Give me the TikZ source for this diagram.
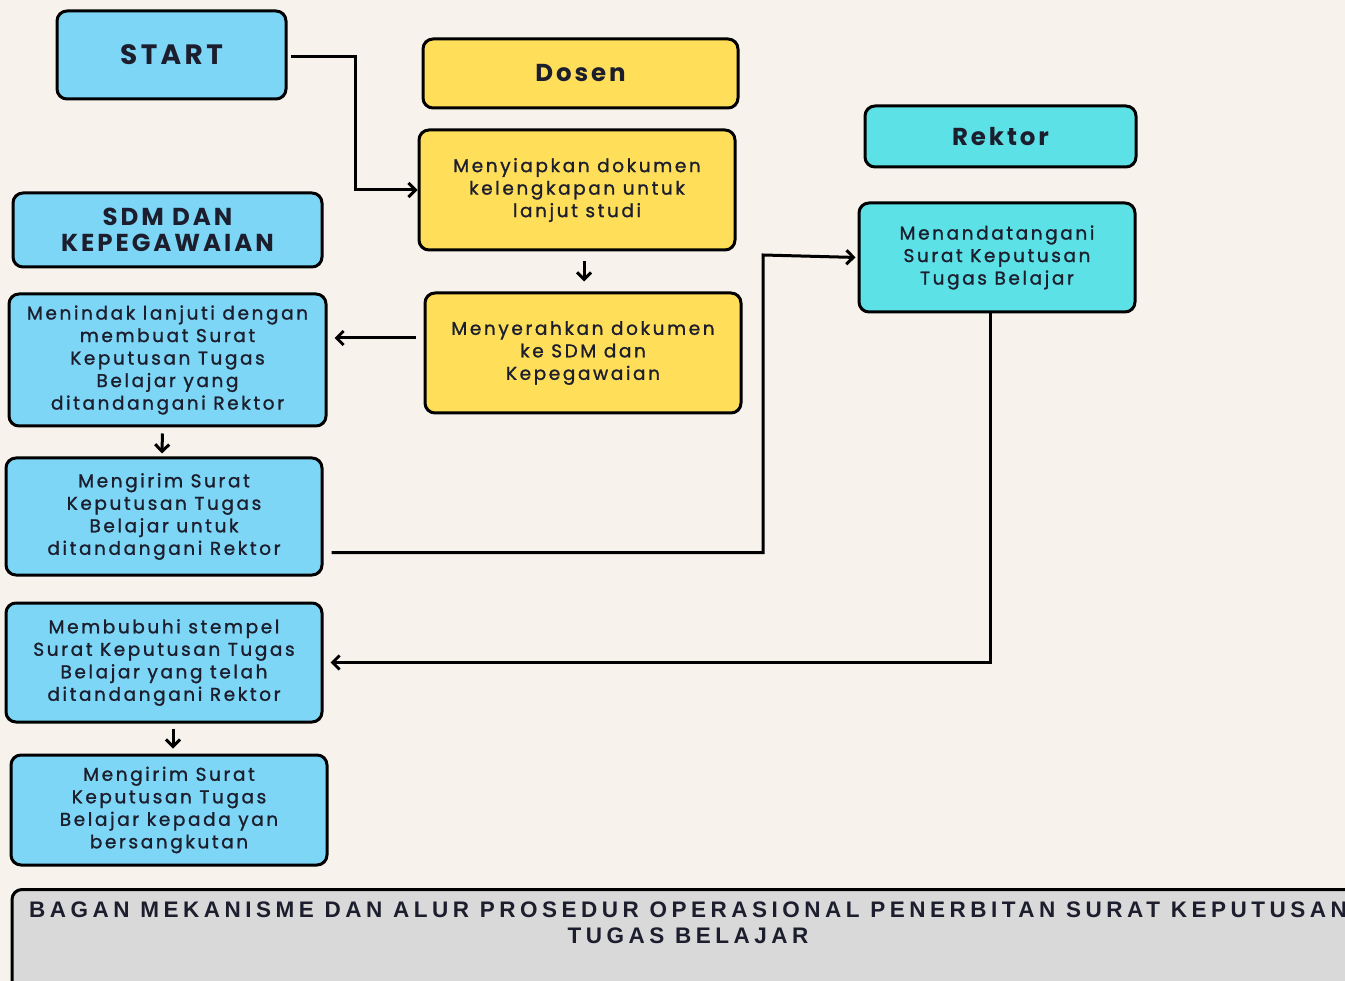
\documentclass[tikz,border=0pt]{standalone}
\usepackage{fontspec}
\setmainfont{Poppins}
\newfontfamily\bodyfont[LetterSpace=14, FakeBold=1.2]{Poppins}
\newfontfamily\headfont[LetterSpace=12]{Poppins}
\newfontfamily\titlefont[LetterSpace=20]{Liberation Sans}
\usetikzlibrary{arrows.meta, positioning}
\definecolor{cbg}{HTML}{F7F3EC}
\definecolor{cblue}{HTML}{7DD6F5}
\definecolor{ccyan}{HTML}{5CE1E6}
\definecolor{cyellow}{HTML}{FFDE59}
\definecolor{cgrey}{HTML}{D9D9D9}
\definecolor{ctext}{HTML}{1C1E2E}
\tikzset{
  every picture/.style={x=1pt, y=-1pt, line width=3pt},
  box/.style={draw=black, fill=#1, rounded corners=10pt, line width=3pt, align=center, inner sep=4pt, text=ctext, font=\bodyfont\fontsize{18.5}{22.5}\selectfont},
  box/.default=cblue,
  head/.style={box=#1, font=\headfont\bfseries\fontsize{24.5}{26}\selectfont},
  arrow/.style={-{Straight Barb[length=7pt, width=14pt]}, draw=black, line width=3pt},
  title/.style={draw=black, fill=cgrey, rounded corners=10pt, line width=3pt, align=center, text=ctext, font=\titlefont\bfseries\fontsize{22.5}{26}\selectfont},
}
\begin{document}
\begin{tikzpicture}
  \clip (0,0) rectangle (1345,981);
  \fill[cbg] (0,0) rectangle (1345,981);
  \node[head=cblue, minimum width=229pt, minimum height=88pt, font=\headfont\bfseries\fontsize{28}{30}\selectfont] (start) at (171.5,55) {START};
  \node[head=cyellow, minimum width=315pt, minimum height=69pt] (dosen) at (580.5,73.5) {Dosen};
  \node[head=ccyan, minimum width=271pt, minimum height=61pt] (rektor) at (1000.5,136.5) {Rektor};
  \node[head=cblue, minimum width=309pt, minimum height=74pt] (sdm) at (167.5,230) {SDM DAN\\KEPEGAWAIAN};
  \node[box=cyellow, minimum width=316pt, minimum height=120pt] (prep) at (577,190) {Menyiapkan dokumen\\kelengkapan untuk\\lanjut studi};
  \node[box=cyellow, minimum width=316pt, minimum height=120pt] (hand) at (583,353) {Menyerahkan dokumen\\ke SDM dan\\Kepegawaian};
  \node[box=ccyan, minimum width=276pt, minimum height=109pt] (sign) at (997,257.5) {Menandatangani\\Surat Keputusan\\Tugas Belajar};
  \node[box, minimum width=317pt, minimum height=132pt] (act) at (167.5,360) {Menindak lanjuti dengan\\membuat Surat\\Keputusan Tugas\\Belajar yang\\ditandangani Rektor};
  \node[box, minimum width=316pt, minimum height=117pt] (send) at (164,516.5) {Mengirim Surat\\Keputusan Tugas\\Belajar untuk\\ditandangani Rektor};
  \node[box, minimum width=316pt, minimum height=119pt] (stamp) at (164,662.5) {Membubuhi stempel\\Surat Keputusan Tugas\\Belajar yang telah\\ditandangani Rektor};
  \node[box, minimum width=316pt, minimum height=110pt] (deliver) at (169,810) {Mengirim Surat\\Keputusan Tugas\\Belajar kepada yan\\bersangkutan};
  \node[title, anchor=north, minimum width=1352pt, inner ysep=12pt, text depth=62pt] (judul) at (688,888) {BAGAN MEKANISME DAN ALUR PROSEDUR OPERASIONAL PENERBITAN SURAT KEPUTUSAN\\TUGAS BELAJAR};
  \coordinate (bend) at (763,255);
  \draw[arrow, shorten <=3pt] ([yshift=-2pt]start.east) -- ++(68,0) |- (prep.west);
  \draw[arrow] ([xshift=7pt, yshift=-10pt]prep.south) -- ([xshift=1pt, yshift=10pt]hand.north);
  \draw[arrow, shorten <=8pt, shorten >=7pt] ([yshift=15pt]hand.west) -- ([yshift=15pt]hand.west -| act.east);
  \draw[arrow, shorten <=6pt, shorten >=3pt] ([xshift=-5pt]act.south) -- ([xshift=-2pt]send.north);
  \draw[arrow, shorten <=8pt, shorten >=2pt] ([yshift=-36pt]send.east) -| (bend) -- (sign.west);
  \draw[arrow, shorten >=7pt] ([xshift=-7pt]sign.south) |- (stamp.east);
  \draw[arrow, shorten <=5pt, shorten >=5pt] ([xshift=9pt]stamp.south) -- ([xshift=4pt]deliver.north);
\end{tikzpicture}
\end{document}
